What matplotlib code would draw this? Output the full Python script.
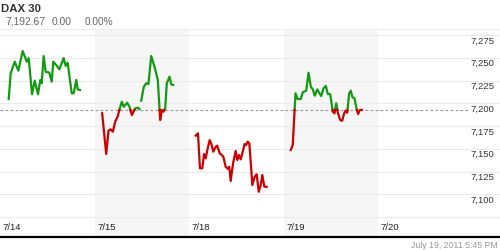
import numpy as np
import matplotlib
matplotlib.use("Agg")
import matplotlib.pyplot as plt
from matplotlib import transforms

plt.rcParams['font.family'] = ['Liberation Sans', 'DejaVu Sans']

# DAX 30 intraday, one list per session (hour of day, index level)
days = ['7/14', '7/15', '7/18', '7/19', '7/20']
prev_close = 7192.67
last = 7192.67
change = 0.00
change_pct = 0.00
stamp = 'July 19, 2011 5:45 PM'

hours_0714 = [8.92, 9.13, 9.56, 9.94, 10.40, 10.83, 11.04, 11.39, 11.67, 12.02, 12.26,
              12.41, 12.62, 12.83, 13.22, 13.47, 13.64, 14.00, 14.28, 14.74, 14.95,
              15.16, 15.59, 15.80, 16.07, 16.22, 16.47]
price_0714 = [7204.7, 7232.9, 7245.7, 7235.8, 7257.4, 7245.7, 7249.4, 7209.9, 7224.8,
              7209.9, 7225.6, 7222.0, 7251.9, 7234.7, 7233.6, 7223.7, 7245.7, 7241.3,
              7237.3, 7249.7, 7241.0, 7244.6, 7211.0, 7211.0, 7225.6, 7215.3, 7214.6]

hours_0715 = [8.81, 9.24, 9.48, 9.69, 9.94, 10.19, 10.47, 10.68, 10.89, 11.10, 11.46,
              11.70, 11.95, 12.31, 12.58, 12.76, 12.85, 12.94, 13.22, 13.47, 13.71,
              14.00, 14.35, 14.70, 14.95, 15.12, 15.30, 15.48, 15.65, 15.94, 16.12, 16.33]
price_0715 = [7189.0, 7144.3, 7169.9, 7171.4, 7168.8, 7179.8, 7186.0, 7194.5, 7201.7,
              7196.2, 7200.6, 7196.2, 7187.1, 7194.5, 7195.1, 7193.7, np.nan, 7202.8,
              7218.2, 7221.9, 7221.2, 7251.9, 7240.2, 7225.6, 7181.6, 7192.6, 7190.7,
              7194.5, 7221.9, 7229.2, 7220.8, 7220.1]

hours_0718 = [8.71, 8.95, 9.16, 9.41, 9.59, 9.77, 9.94, 10.19, 10.40, 10.57, 10.83,
              10.99, 11.25, 11.46, 11.63, 11.88, 12.13, 12.26, 12.41, 12.66, 12.94,
              13.11, 13.29, 13.47, 13.64, 13.89, 14.06, 14.21, 14.38, 14.53, 14.70,
              14.95, 15.16, 15.38, 15.59, 15.76, 15.97, 16.22]
price_0718 = [7164.4, 7167.0, 7128.6, 7128.6, 7144.3, 7139.5, 7148.7, 7159.6, 7154.2,
              7146.8, 7152.3, 7153.4, 7145.0, 7143.2, 7141.3, 7130.3, 7127.8, 7130.3,
              7114.6, 7134.0, 7147.6, 7137.7, 7143.2, 7138.4, 7145.0, 7155.3, 7154.2,
              7157.8, 7156.0, 7135.8, 7110.2, 7119.3, 7122.0, 7102.8, 7110.2, 7121.2,
              7108.3, 7108.3]

hours_0719 = [8.77, 8.98, 9.27, 9.48, 9.83, 10.04, 10.40, 10.65, 10.89, 11.10, 11.31,
              11.57, 11.81, 11.99, 12.23, 12.48, 12.69, 12.94, 13.22, 13.40, 13.58,
              13.75, 14.00, 14.21, 14.42, 14.56, 14.74, 14.95, 15.12, 15.30, 15.51,
              15.76, 15.90, 16.07, 16.29]
price_0719 = [7148.7, 7154.2, 7211.0, 7204.7, 7204.7, 7212.1, 7213.8, 7233.6, 7218.2,
              7215.3, 7208.3, 7215.3, 7211.0, 7208.0, 7216.4, 7219.0, 7210.2, 7209.9,
              7190.7, 7189.0, 7200.0, 7189.6, 7181.6, 7180.8, 7189.0, 7191.8, 7189.6,
              7211.0, 7213.8, 7206.6, 7205.5, 7192.6, 7188.2, 7192.6, 7192.67]

sessions = [hours_0714, hours_0715, hours_0718, hours_0719]
prices = [price_0714, price_0715, price_0718, price_0719]
yticks = [7100, 7125, 7150, 7175, 7200, 7225, 7250, 7275]

GREEN = '#129a12'
RED = '#cc0000'


def split_at(x, y, thr):
    # insert the crossing points so both colours meet on the line
    xs, ys = [x[0]], [y[0]]
    for k in range(1, len(x)):
        y0, y1 = y[k-1], y[k]
        if not np.isnan(y0) and not np.isnan(y1) and (y0 - thr) * (y1 - thr) < 0:
            f = (thr - y0) / (y1 - y0)
            xs.append(x[k-1] + f * (x[k] - x[k-1]))
            ys.append(thr)
        xs.append(x[k])
        ys.append(y[k])
    return np.array(xs), np.array(ys)


fig = plt.figure(figsize=(5, 2.5), dpi=100)
ax = fig.add_axes([0, 13/250, 1, 208/250])

ax.set_xlim(0, 500/94.5)
ax.set_ylim(7053.1, 7281.6)

for d in (1, 3):
    ax.axvspan(d, d+1, color='#f6f6f6', lw=0, zorder=0)

for v in yticks + [7075]:
    ax.axhline(v, color='#ebebeb', lw=0.8, zorder=1)
ax.axhline(prev_close, xmax=468/500, color='#999999', lw=0.8,
           ls=(0, (2.5, 2)), zorder=2)

for i, (h, p) in enumerate(zip(sessions, prices)):
    x = i + (np.array(h) - 8) / 10
    xs, ys = split_at(x, np.array(p, dtype=float), prev_close)
    up = np.ma.masked_where(ys < prev_close, ys)
    dn = np.ma.masked_where(ys > prev_close, ys)
    ax.plot(xs, up, color=GREEN, lw=1.6, zorder=3, solid_joinstyle='round')
    ax.plot(xs, dn, color=RED, lw=1.6, zorder=3, solid_joinstyle='round')

# price labels sit just under their grid line, at the right edge
lab = transforms.offset_copy(ax.get_yaxis_transform(), fig=fig, x=0, y=-6, units='dots')
for v in yticks:
    ax.text(494/500, v, '{:,}'.format(v), transform=lab, ha='right', va='center',
            fontsize=6.8, color='#333333')

# session labels in the bottom band
for i, d in enumerate(days):
    ax.text(i + 2.5/94.5, 7064, d, ha='left', va='center', fontsize=6.8, color='#222222')

ax.set_xticks([])
ax.set_yticks([])
for s in ('left', 'right'):
    ax.spines[s].set_visible(False)
ax.spines['top'].set_color('#eeeeee')
ax.spines['top'].set_linewidth(0.8)
ax.spines['bottom'].set_color('black')
ax.spines['bottom'].set_linewidth(1.6)

fig.text(1/500, 1 - 9/250, 'DAX 30', fontsize=8.2, fontweight='bold',
         color='#333333', ha='left', va='center')
fig.text(5/500, 1 - 22/250, '{:,.2f}'.format(last), fontsize=7.4,
         color='#666666', ha='left', va='center')
fig.text(52/500, 1 - 22/250, '{:.2f}'.format(change), fontsize=7.4,
         color='#666666', ha='left', va='center')
fig.text(85/500, 1 - 22/250, '{:.2f}%'.format(change_pct), fontsize=7.2,
         color='#666666', ha='left', va='center')
fig.text(498/500, 5/250, stamp, fontsize=6.3, color='#999999', ha='right', va='center')

fig.savefig('out.png', dpi=100)
